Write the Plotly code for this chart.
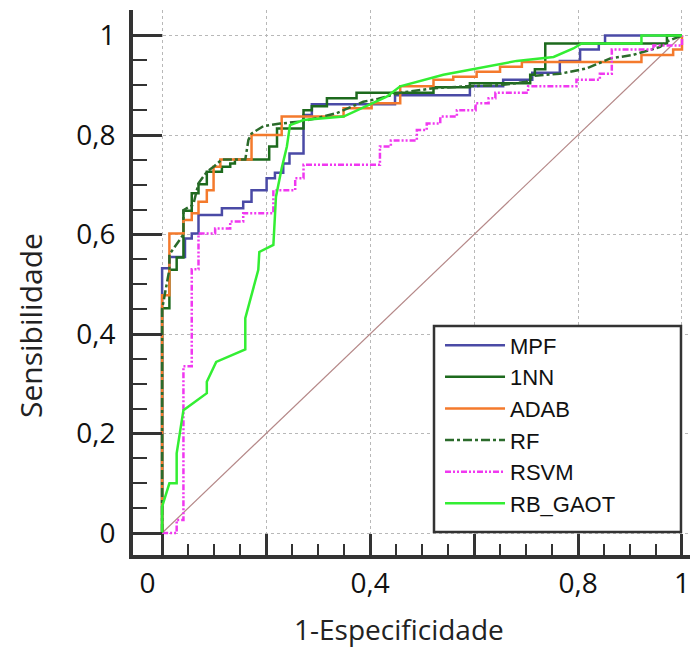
import plotly.graph_objects as go

# ---- data (FPR = 1-Especificidade, TPR = Sensibilidade) ----
mpf_x = [0, 0, 0.014, 0.044, 0.057, 0.07, 0.115, 0.156, 0.172, 0.201, 0.217, 0.233, 0.245, 0.272, 0.288, 0.448, 0.592, 0.656, 0.712, 0.765, 0.804, 0.84, 0.852, 1.0]
mpf_y = [0, 0.532, 0.555, 0.592, 0.602, 0.639, 0.653, 0.666, 0.689, 0.713, 0.724, 0.743, 0.763, 0.84, 0.862, 0.88, 0.898, 0.911, 0.925, 0.949, 0.972, 0.984, 1.0, 1.0]

nn_x = [0, 0, 0.014, 0.028, 0.041, 0.057, 0.07, 0.086, 0.115, 0.131, 0.14, 0.206, 0.221, 0.272, 0.288, 0.317, 0.374, 0.522, 0.592, 0.708, 0.717, 0.737, 0.971, 1.0]
nn_y = [0, 0.452, 0.529, 0.554, 0.648, 0.683, 0.701, 0.726, 0.736, 0.743, 0.751, 0.777, 0.813, 0.85, 0.858, 0.874, 0.885, 0.896, 0.904, 0.921, 0.932, 0.984, 1.0, 1.0]

adab_x = [0, 0, 0.014, 0.041, 0.057, 0.07, 0.086, 0.099, 0.112, 0.172, 0.23, 0.349, 0.403, 0.458, 0.522, 0.56, 0.605, 0.65, 0.692, 0.922, 0.983, 1.0]
adab_y = [0, 0.478, 0.602, 0.629, 0.643, 0.666, 0.689, 0.736, 0.751, 0.8, 0.837, 0.854, 0.864, 0.898, 0.911, 0.917, 0.927, 0.937, 0.947, 0.961, 0.972, 1.0]

rf_x = [0, 0, 0.014, 0.014, 0.041, 0.041, 0.06, 0.07, 0.086, 0.099, 0.115, 0.16, 0.166, 0.172, 0.195, 0.227, 0.265, 0.298, 0.336, 0.349, 0.387, 0.416, 0.458, 0.522, 0.586, 0.65, 0.701, 0.714, 0.765, 0.817, 0.862, 0.906, 0.958, 0.971, 1.0]
rf_y = [0, 0.45, 0.53, 0.56, 0.6, 0.649, 0.66, 0.703, 0.726, 0.736, 0.751, 0.751, 0.79, 0.803, 0.818, 0.823, 0.827, 0.834, 0.844, 0.85, 0.867, 0.873, 0.885, 0.894, 0.898, 0.9, 0.907, 0.919, 0.923, 0.934, 0.954, 0.961, 0.977, 0.988, 1.0]

rsvm_x = [0, 0.028, 0.041, 0.057, 0.07, 0.102, 0.131, 0.156, 0.214, 0.256, 0.272, 0.419, 0.44, 0.49, 0.509, 0.535, 0.567, 0.603, 0.628, 0.641, 0.704, 0.797, 0.842, 0.865, 0.945, 1.0]
rsvm_y = [0, 0.026, 0.335, 0.53, 0.602, 0.612, 0.626, 0.643, 0.689, 0.713, 0.74, 0.777, 0.789, 0.81, 0.823, 0.837, 0.85, 0.864, 0.874, 0.885, 0.898, 0.911, 0.923, 0.972, 0.98, 1.0]

gaot_x = [0, 0, 0.014, 0.028, 0.028, 0.041, 0.086, 0.086, 0.104, 0.16, 0.16, 0.185, 0.187, 0.214, 0.219, 0.23, 0.24, 0.246, 0.272, 0.349, 0.432, 0.458, 0.541, 0.605, 0.682, 0.753, 0.791, 0.807, 0.922, 0.922, 1.0]
gaot_y = [0, 0.053, 0.1, 0.1, 0.16, 0.247, 0.281, 0.304, 0.344, 0.369, 0.432, 0.529, 0.565, 0.579, 0.676, 0.733, 0.777, 0.82, 0.83, 0.837, 0.877, 0.898, 0.921, 0.934, 0.949, 0.957, 0.974, 0.984, 0.984, 1.0, 1.0]

diag = [0, 1]

names = ["MPF", "1NN", "ADAB", "RF", "RSVM", "RB_GAOT"]
major_vals = [0, 0.2, 0.4, 0.6, 0.8, 1.0]
x_ticktext = ["0\u00a0\u00a0\u00a0\u00a0", "", "0,4", "", "0,8", "1"]
y_ticktext = ["0", "0,2", "0,4", "0,6", "0,8", "1"]
minor_vals = [0.05, 0.1, 0.15, 0.25, 0.3, 0.35, 0.45, 0.5, 0.55, 0.65, 0.7, 0.75, 0.85, 0.9, 0.95]
x_title = "1-Especificidade"
y_title = "Sensibilidade"

FONT = "Open Sans"

fig = go.Figure()
fig.add_trace(go.Scatter(x=diag, y=diag, mode="lines", line=dict(color="#b58888", width=1.2),
                         showlegend=False, hoverinfo="skip"))
fig.add_trace(go.Scatter(x=mpf_x, y=mpf_y, name=names[0], mode="lines", line_shape="hv",
                         line=dict(color="#4a4aa6", width=2.5)))
fig.add_trace(go.Scatter(x=nn_x, y=nn_y, name=names[1], mode="lines", line_shape="hv",
                         line=dict(color="#1d6a1d", width=2.5)))
fig.add_trace(go.Scatter(x=adab_x, y=adab_y, name=names[2], mode="lines", line_shape="hv",
                         line=dict(color="#f47a2c", width=2.5)))
fig.add_trace(go.Scatter(x=rf_x, y=rf_y, name=names[3], mode="lines",
                         line=dict(color="#2b6b2b", width=2.5, dash="dashdot")))
fig.add_trace(go.Scatter(x=rsvm_x, y=rsvm_y, name=names[4], mode="lines", line_shape="hv",
                         line=dict(color="#f038f0", width=2.5, dash="6px,2px,2px,2px,2px,2px")))
fig.add_trace(go.Scatter(x=gaot_x, y=gaot_y, name=names[5], mode="lines",
                         line=dict(color="#33ee33", width=2.5)))

axis_common = dict(
    tickvals=major_vals, ticks="inside", tickwidth=3, tickcolor="#333",
    showline=True, linewidth=4, linecolor="#333",
    showgrid=True, gridcolor="#b8b8b8", griddash="dot", gridwidth=1,
    zeroline=False, automargin=False,
    tickfont=dict(family=FONT, size=28, color="#111"),
)

fig.update_xaxes(
    **axis_common, range=[-0.056, 1.0154], ticktext=x_ticktext, ticklen=21,
    minor=dict(tickvals=minor_vals, ticks="inside", ticklen=11, tickwidth=2, tickcolor="#333", showgrid=False),
)
fig.update_yaxes(
    **axis_common, range=[-0.0442, 1.0513], ticktext=y_ticktext, ticklen=29,
    ticklabelstandoff=8,
    minor=dict(tickvals=minor_vals, ticks="inside", ticklen=14, tickwidth=2, tickcolor="#333", showgrid=False),
)

# axis titles as annotations (placed like the reference, off-centre)
fig.add_annotation(text=x_title, xref="paper", yref="paper", x=0.478, y=-0.136,
                   xanchor="center", yanchor="middle", showarrow=False,
                   font=dict(family=FONT, size=28, color="#222"))
fig.add_annotation(text=y_title, xref="paper", yref="paper", x=-0.185, y=0.422,
                   xanchor="center", yanchor="middle", textangle=-90, showarrow=False,
                   font=dict(family=FONT, size=30, color="#222"))

# legend frame
fig.add_shape(type="rect", xref="paper", yref="paper", x0=0.5404, x1=0.9838, y0=0.0422, y1=0.4202,
              line=dict(color="#333", width=2.5), fillcolor="white", layer="above")

# the page body adds an 8px margin, so the figure is 8px smaller and margins are shifted
fig.update_layout(
    width=692, height=640,
    margin=dict(l=125, r=10, t=2, b=93),
    paper_bgcolor="white", plot_bgcolor="white",
    legend=dict(x=0.5512, y=0.423, xanchor="left", yanchor="top",
                bgcolor="rgba(0,0,0,0)", borderwidth=0,
                font=dict(family="Liberation Sans", size=22, color="#111"),
                itemwidth=60, tracegroupgap=0),
)

fig.write_html("out.html")
